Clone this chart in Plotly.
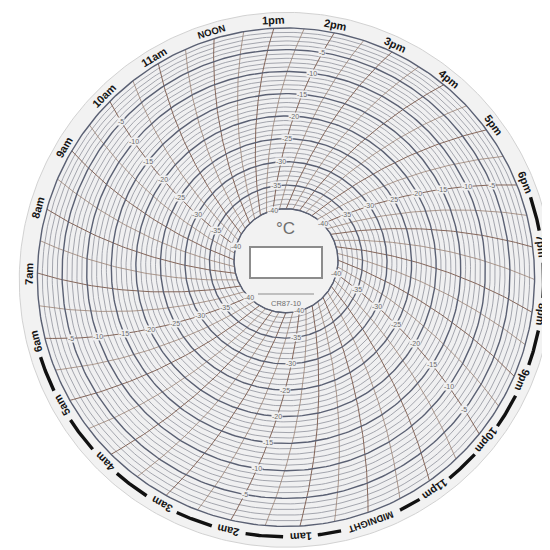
import numpy as np
import plotly.graph_objects as go

# ---------------- data ----------------
HOUR_LABELS = ["NOON", "1pm", "2pm", "3pm", "4pm", "5pm", "6pm", "7pm", "8pm", "9pm", "10pm", "11pm",
               "MIDNIGHT", "1am", "2am", "3am", "4am", "5am", "6am", "7am", "8am", "9am", "10am", "11am"]
HOURS_AFTER_NOON = list(range(24))
TIME_STEP = 0.5                     # time arcs every half hour
TEMP_MIN, TEMP_MAX = -40, 0         # °C, inner ring -> outer ring
TEMP_MINOR, TEMP_MAJOR = 1, 5
TEMP_LABELS = [-40, -35, -30, -25, -20, -15, -10, -5]
LABELED_HOURS = [2, 6, 10, 14, 18, 22]   # 2pm, 6pm, 10pm, 2am, 6am, 10am
NIGHT_HOURS = list(range(6, 18))         # 6pm .. 6am night bars
UNIT_LABEL = "°C"
CHART_CODE = "CR87-10"

# ---------------- geometry / style ----------------
R_IN, R_OUT, R_LABEL, R_DISC = 52, 248, 257, 266
ROT = 18
ARM_D, ARM_R = 1.78, 1.843
TILT = 2.786e-4          # photo perspective (top of the disc farther away)
PAGE_OFFSET = 8          # default body margin of the page

MINOR_COLOR = "#8f929c"
MAJOR_COLOR = "#5a6073"
HOUR_COLOR = "#84665a"
HALF_COLOR = "#998274"
PAPER = "#f0f0f1"
FONT = "Liberation Sans, Arial, sans-serif"


def temp_to_r(t):
    return R_IN + (t - TEMP_MIN) / (TEMP_MAX - TEMP_MIN) * (R_OUT - R_IN)


def hour_angle(h):
    return 90 + ROT - 15 * np.asarray(h, dtype=float)


def arc_offset(r):
    f = lambda p: (p ** 2 + ARM_D ** 2 - ARM_R ** 2) / (2 * p * ARM_D)
    rho = np.asarray(r, dtype=float) / R_OUT
    return np.degrees(np.arccos(f(rho)) - np.arccos(f(1.0)))


def to_xy(r, ang_deg):
    a = np.radians(ang_deg)
    X, Y = r * np.cos(a), r * np.sin(a)
    d = 1 + TILT * Y
    return X / d, Y / d


def circle_xy(r, n=361):
    ang = np.linspace(0, 360, n)
    return to_xy(np.full_like(ang, r), ang)


fig = go.Figure()

# paper disc, grid background and centre hole
for r, fc, lc in [(R_DISC, "#f2f2f2", "#d2d2d2"), (R_OUT, PAPER, PAPER), (R_IN, "#f2f2f2", MAJOR_COLOR)]:
    x, y = circle_xy(r)
    fig.add_trace(go.Scatter(x=x, y=y, mode="lines", fill="toself", fillcolor=fc,
                             line=dict(color=lc, width=1), hoverinfo="skip"))

# rings
ring = {True: ([], []), False: ([], [])}
for t in range(TEMP_MIN, TEMP_MAX + 1, TEMP_MINOR):
    x, y = circle_xy(temp_to_r(t))
    major = (t % TEMP_MAJOR == 0)
    ring[major][0].extend(list(x) + [None])
    ring[major][1].extend(list(y) + [None])
fig.add_trace(go.Scatter(x=ring[False][0], y=ring[False][1], mode="lines",
                         line=dict(color=MINOR_COLOR, width=0.8), hoverinfo="skip"))

# time arcs
arcs = {True: ([], []), False: ([], [])}
rr = np.linspace(R_IN, R_OUT, 60)
for h in np.arange(0, 24, TIME_STEP):
    x, y = to_xy(rr, hour_angle(h) + arc_offset(rr))
    full = float(h).is_integer()
    arcs[full][0].extend(list(x) + [None])
    arcs[full][1].extend(list(y) + [None])
fig.add_trace(go.Scatter(x=arcs[False][0], y=arcs[False][1], mode="lines",
                         line=dict(color=HALF_COLOR, width=0.8), hoverinfo="skip"))
fig.add_trace(go.Scatter(x=arcs[True][0], y=arcs[True][1], mode="lines",
                         line=dict(color=HOUR_COLOR, width=1.0), hoverinfo="skip"))
fig.add_trace(go.Scatter(x=ring[True][0], y=ring[True][1], mode="lines",
                         line=dict(color=MAJOR_COLOR, width=1.4), hoverinfo="skip"))

# night bars on the rim
HOUR_PX = R_LABEL * np.radians(15)


def half_gap(k):
    lab = HOUR_LABELS[k % 24]
    cw = 6.3 if lab.isupper() else 6.6
    return max(0.24, (len(lab) * cw / 2 + 4) / HOUR_PX)


bx, by = [], []
for k in NIGHT_HOURS:
    hs = np.linspace(k + half_gap(k), k + 1 - half_gap(k + 1), 20)
    x, y = to_xy(np.full_like(hs, R_LABEL), hour_angle(hs))
    bx.extend(list(x) + [None])
    by.extend(list(y) + [None])
fig.add_trace(go.Scatter(x=bx, y=by, mode="lines", line=dict(color="#111111", width=3.4),
                         hoverinfo="skip"))

annotations = []
# hour labels, rotated along the rim
for h, lab in zip(HOURS_AFTER_NOON, HOUR_LABELS):
    a = float(hour_angle(h))
    x, y = to_xy(R_LABEL, a)
    x1, y1 = to_xy(R_LABEL, a + 0.5)
    x2, y2 = to_xy(R_LABEL, a - 0.5)
    ta = -np.degrees(np.arctan2(y2 - y1, x2 - x1))
    annotations.append(dict(x=float(x), y=float(y), xref="x", yref="y", text="<b>%s</b>" % lab,
                            showarrow=False, textangle=float(ta),
                            font=dict(family=FONT, size=9.5 if lab.isupper() else 11, color="#151515")))
# temperature labels along labelled arcs
for h in LABELED_HOURS:
    for t in TEMP_LABELS:
        r = temp_to_r(t)
        x, y = to_xy(r, hour_angle(h) + arc_offset(r))
        annotations.append(dict(x=float(x), y=float(y), xref="x", yref="y", text=str(t),
                                showarrow=False, bgcolor=PAPER, borderpad=0,
                                font=dict(family=FONT, size=7, color="#6a6a6a")))

annotations.append(dict(x=-1, y=32, xref="x", yref="y", text=UNIT_LABEL, showarrow=False,
                        font=dict(family=FONT, size=17, color="#6e6e6e")))
annotations.append(dict(x=0, y=-43, xref="x", yref="y", text=CHART_CODE, showarrow=False,
                        font=dict(family=FONT, size=7.5, color="#6e6e6e")))

shapes = [
    dict(type="rect", xref="x", yref="y", x0=-36, x1=36, y0=-18, y1=13,
         fillcolor="#ffffff", line=dict(color="#8c8c8c", width=2)),
    dict(type="line", xref="x", yref="y", x0=-28, x1=28, y0=-34, y1=-34,
         line=dict(color="#8c8c8c", width=1)),
]

CX, CY = 286, 260   # chart centre in the picture
fig.update_layout(
    width=550, height=550, margin=dict(l=0, r=0, t=0, b=0),
    paper_bgcolor="#ffffff", plot_bgcolor="#ffffff", showlegend=False, hovermode=False,
    xaxis=dict(range=[-CX + PAGE_OFFSET, 550 - CX + PAGE_OFFSET], visible=False, showgrid=False,
               zeroline=False, fixedrange=True),
    yaxis=dict(range=[CY - PAGE_OFFSET - 550, CY - PAGE_OFFSET], visible=False, showgrid=False,
               zeroline=False, fixedrange=True, scaleanchor="x", scaleratio=1),
    annotations=annotations, shapes=shapes,
)

fig.write_html("out.html")
